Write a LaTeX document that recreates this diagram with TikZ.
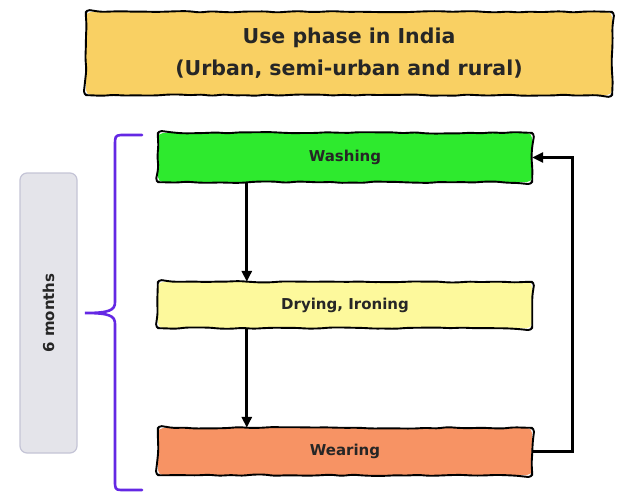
\documentclass[tikz,border=0pt]{standalone}
\usepackage{fontspec}
\setmainfont{DejaVu Sans}
\usetikzlibrary{arrows.meta,decorations.pathmorphing}
\definecolor{titlefill}{HTML}{F9D063}
\definecolor{washfill}{HTML}{2EEA2E}
\definecolor{dryfill}{HTML}{FDF99C}
\definecolor{wearfill}{HTML}{F79364}
\definecolor{monthfill}{HTML}{E4E4EA}
\definecolor{monthdraw}{HTML}{C4C4D6}
\definecolor{bracecol}{HTML}{6428E4}
\tikzset{
  sketchbox/.style={rounded corners=5pt, inner sep=0pt,
    font=\bfseries\fontsize{15}{17}\selectfont, text=black!85},
  sketchline/.style={draw=black, line width=1.9pt, line join=round,
    decorate, decoration={random steps, segment length=11pt, amplitude=0.8pt},
    rounded corners=4pt},
  flow/.style={line width=2.8pt, -{Triangle[length=11pt,width=10pt]}},
}
\newcommand{\sketchborder}[1]{%
  \draw[sketchline] (#1.north) -- (#1.north east) -- (#1.south east)
    -- (#1.south west) -- (#1.north west) -- cycle;}
\begin{document}
\begin{tikzpicture}[x=1pt,y=-1pt]
\pgfmathsetseed{11}
\useasboundingbox (0,0) rectangle (633,499);
\node[sketchbox, fill=titlefill, minimum width=526pt, minimum height=83pt, align=center,
  font=\bfseries\fontsize{20.5}{32}\selectfont] (title) at (349,53.5)
  {\raisebox{-3pt}{\parbox{400pt}{\centering Use phase in India\\(Urban, semi-urban and rural)}}};
\node[sketchbox, fill=washfill, minimum width=374pt, minimum height=49pt] (wash) at (345,157.5) {Washing};
\node[sketchbox, fill=dryfill, minimum width=374pt, minimum height=46pt] (dry) at (345,305) {Drying, Ironing};
\node[sketchbox, fill=wearfill, minimum width=374pt, minimum height=47pt] (wear) at (345,451.5) {Wearing};
\sketchborder{title}
\sketchborder{wash}
\sketchborder{dry}
\sketchborder{wear}
\node[draw=monthdraw, line width=1.2pt, fill=monthfill, rounded corners=7pt, rotate=90,
  minimum width=280pt, minimum height=57pt, inner sep=0pt,
  font=\bfseries\fontsize{15}{17}\selectfont, text=black!85] (months) at (48.5,313) {6 months};
\draw[flow] ([xshift=89pt]wash.south west) -- ([xshift=89pt]dry.north west);
\draw[flow] ([xshift=89pt]dry.south west) -- ([xshift=89pt]wear.north west);
\draw[flow] (wear.east) -- ++(40,0) |- (wash.east);
\coordinate (btop) at (142,135);
\coordinate (bbot) at (142,490);
\coordinate (btip) at (85,313);
\draw[bracecol, line width=2.6pt, line cap=round]
  (btop) -- (121,135) .. controls (115,135) and (115,138) .. (115,144)
  -- (115,302) .. controls (115,310) and (110,313) .. (btip)
  .. controls (110,313) and (115,316) .. (115,324)
  -- (115,481) .. controls (115,488) and (115,490) .. (121,490) -- (bbot);
\end{tikzpicture}
\end{document}
